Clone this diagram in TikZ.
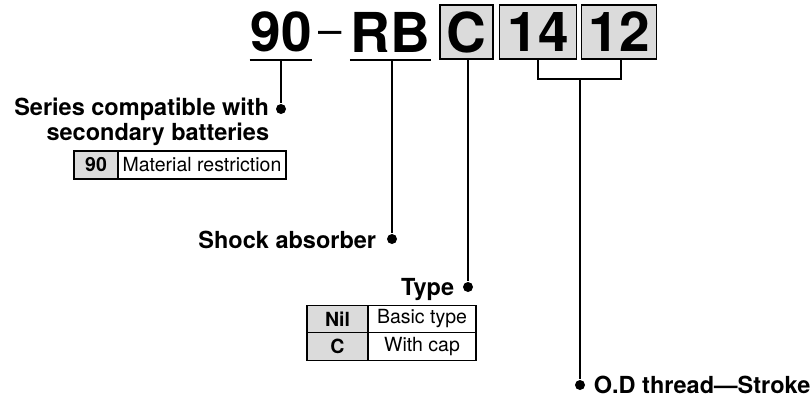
\documentclass[tikz,border=0pt]{standalone}
\usepackage{fontspec}
\setmainfont{TeX Gyre Heros}
\definecolor{keygrey}{gray}{0.86}

\begin{document}
\begin{tikzpicture}[
  x=1pt, y=-1pt,
  every path/.style={line width=1.8pt},
  code/.style={inner sep=0pt, minimum height=54pt, font=\fontsize{55}{60}\selectfont\bfseries},
  codebox/.style={code, draw, fill=keygrey, line width=1.8pt},
  label/.style={inner sep=0pt, font=\fontsize{23.5}{28}\selectfont\bfseries},
  dot/.style={circle, fill, inner sep=0pt, minimum size=10pt},
  keycell/.style={draw, fill=keygrey, line width=1.2pt, inner sep=0pt, outer sep=0pt, font=\fontsize{19.5}{22}\selectfont\bfseries},
  valcell/.style={draw, line width=1.2pt, inner sep=0pt, outer sep=0pt, font=\fontsize{19.5}{22}\selectfont}
  ]
  \useasboundingbox (0,0) rectangle (811,400);

  % Define nodes
  \node[code, minimum width=60pt] (s90) at (281,32) {90};
  \node[inner sep=0pt, anchor=base, font=\fontsize{42}{44}\selectfont] (dash) at (330,44) {--};
  \node[code, minimum width=75pt] (rb) at (390.5,32) {RB};
  \node[codebox, minimum width=53pt] (c) at (466.5,32) {C};
  \node[codebox, minimum width=77pt] (s14) at (538,32) {14};
  \node[codebox, minimum width=75pt] (s12) at (619,32) {12};

  \node[dot] (d90) at (281,109) {};
  \node[dot] (drb) at (392,239) {};
  \node[dot] (dc) at (468,287) {};
  \node[dot] (dod) at (580,385) {};

  \node[label, anchor=base east] (l90a) at (270,115) {Series compatible with};
  \node[label, anchor=base east] (l90b) at (270,140) {secondary batteries};
  \node[label, anchor=base east] (lrb) at (377,248) {Shock absorber};
  \node[label, anchor=base east] (lc) at (455,295) {Type};
  \node[label, anchor=base west] (lod) at (593,393) {O.D thread---Stroke};

  % Tables
  \node[keycell, minimum width=44pt, minimum height=28pt] (k90) at (96,165) {90};
  \node[valcell, minimum width=168pt, minimum height=28pt, anchor=west] (v90) at (k90.east) {Material restriction};

  \node[keycell, minimum width=61pt, minimum height=27.5pt] (knil) at (337.5,319) {Nil};
  \node[valcell, minimum width=108pt, minimum height=27.5pt, anchor=west] (vnil) at (knil.east) {Basic type};
  \node[keycell, minimum width=61pt, minimum height=27.5pt, anchor=north] (kc) at (knil.south) {C};
  \node[valcell, minimum width=108pt, minimum height=27.5pt, anchor=west] (vc) at (kc.east) {With cap};

  % Underlines
  \draw (s90.south west) -- (s90.south east);
  \draw (rb.south west) -- (rb.south east);

  % Leaders
  \draw (s90.south) -- (d90);
  \draw (rb.south -| drb) -- (drb);
  \draw (c.south -| dc) -- (dc);
  \coordinate (b14) at (538,79);
  \coordinate (b12) at (621,79);
  \draw (s14.south -| b14) -- (b14) -- (b12) -- (s12.south -| b12);
  \draw (b14 -| dod) -- (dod);

\end{tikzpicture}
\end{document}
